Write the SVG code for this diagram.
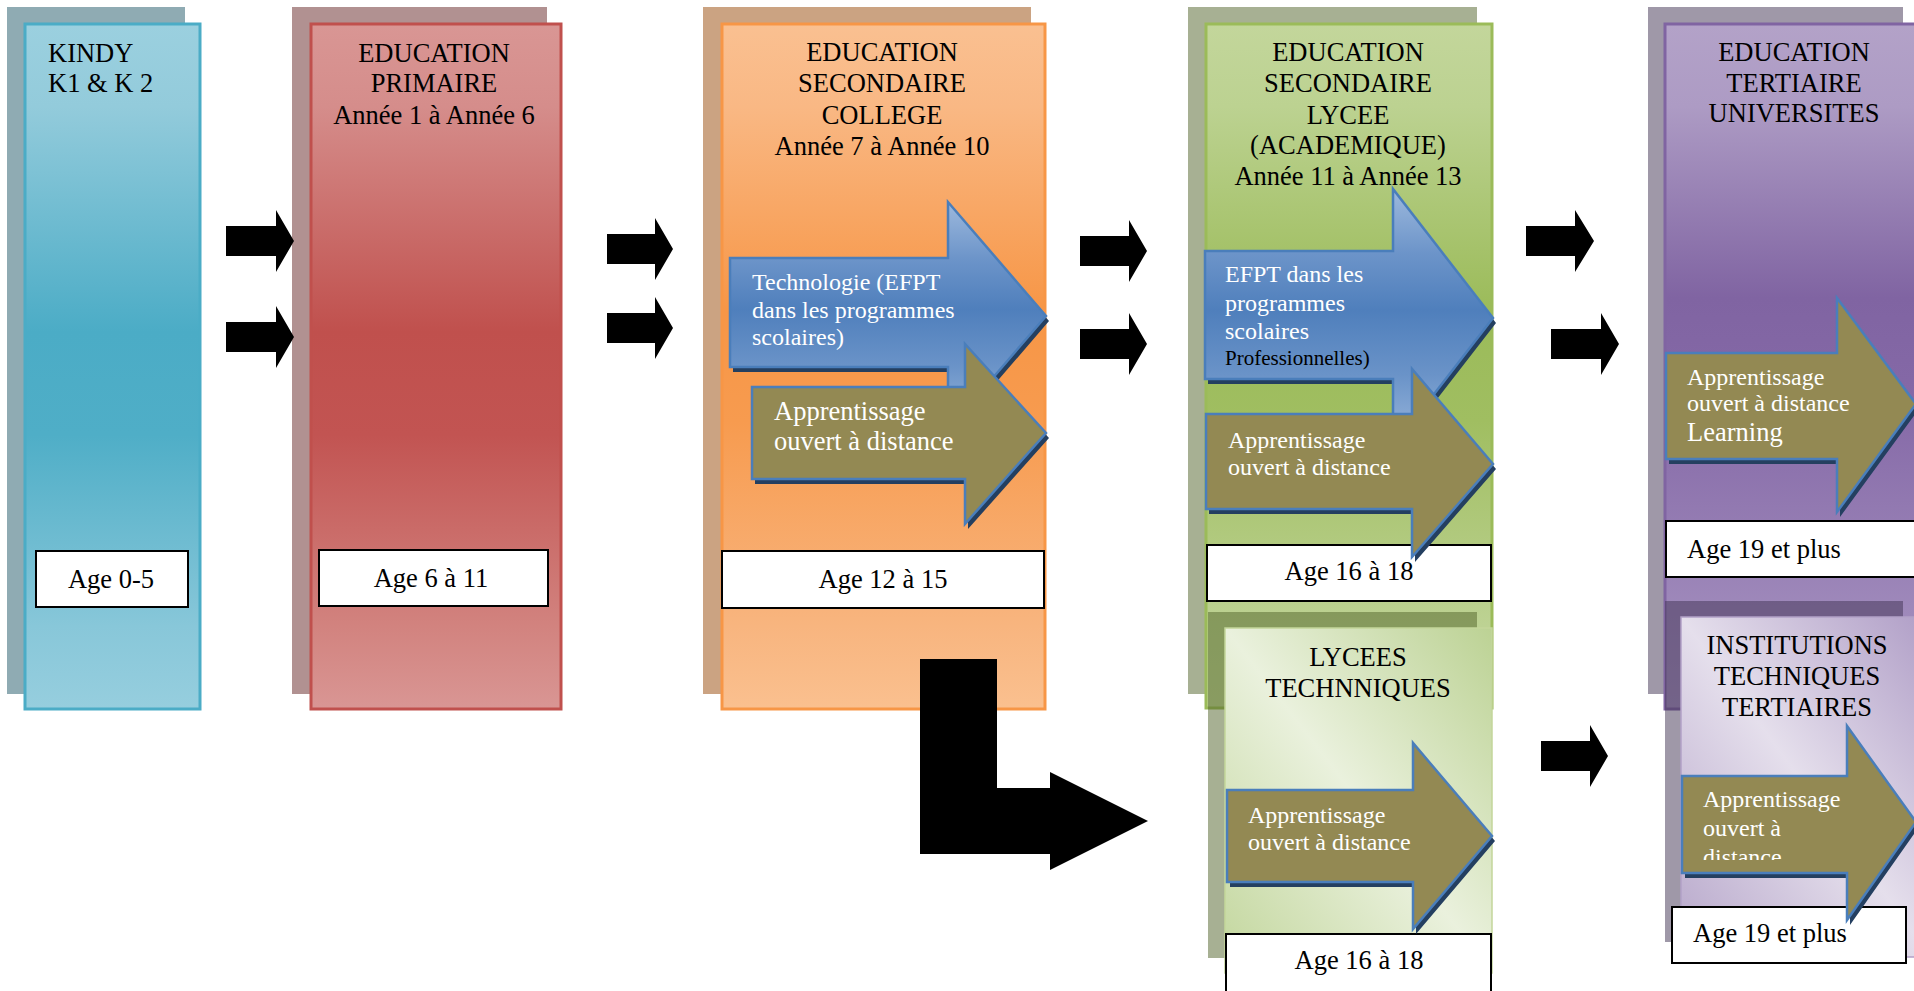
<svg xmlns="http://www.w3.org/2000/svg" width="1914" height="991" viewBox="0 0 1914 991">
<style>
  text { font-family: "Liberation Serif", "Times New Roman", serif; }
  .t { font-size: 26.5px; fill: #000; }
  .c { text-anchor: middle; }
  .w { fill: #fff; font-size: 24px; }
  .wl { fill: #fff; font-size: 26.5px; }
  .age { fill: #fff; stroke: #000; stroke-width: 2; }
  .blk { fill: #000; }
  .sh { opacity: 0.5; }
  .ashadow { fill: #243F60; }
  .olive { fill: #938953; stroke: #4A7EBB; stroke-width: 2.5; stroke-linejoin: miter; }
  .blue { fill: url(#gBlue); stroke: #4A7EBB; stroke-width: 2.5; }
</style>
<defs>
  <linearGradient id="gKindy" x1="0" y1="0" x2="0" y2="1">
    <stop offset="0" stop-color="#9BD0DF"/><stop offset="0.12" stop-color="#93CBDB"/>
    <stop offset="0.45" stop-color="#4BACC6"/><stop offset="0.6" stop-color="#4FAEC7"/>
    <stop offset="0.88" stop-color="#88C7D9"/><stop offset="1" stop-color="#96CEDE"/>
  </linearGradient>
  <linearGradient id="gPrim" x1="0" y1="0" x2="0" y2="1">
    <stop offset="0" stop-color="#D99694"/><stop offset="0.12" stop-color="#D58D8B"/>
    <stop offset="0.45" stop-color="#C0504D"/><stop offset="0.6" stop-color="#C25452"/>
    <stop offset="0.88" stop-color="#D2837F"/><stop offset="1" stop-color="#D99694"/>
  </linearGradient>
  <linearGradient id="gColl" x1="0" y1="0" x2="0" y2="1">
    <stop offset="0" stop-color="#FAC091"/><stop offset="0.12" stop-color="#F9B884"/>
    <stop offset="0.42" stop-color="#F79646"/><stop offset="0.58" stop-color="#F79B4F"/>
    <stop offset="0.88" stop-color="#F8B57F"/><stop offset="1" stop-color="#FAC08F"/>
  </linearGradient>
  <linearGradient id="gLyc" x1="0" y1="0" x2="0" y2="1">
    <stop offset="0" stop-color="#C3D69B"/><stop offset="0.12" stop-color="#BCD291"/>
    <stop offset="0.42" stop-color="#9BBB59"/><stop offset="0.58" stop-color="#A0BE61"/>
    <stop offset="0.88" stop-color="#BDD293"/><stop offset="1" stop-color="#C3D69B"/>
  </linearGradient>
  <linearGradient id="gTert" x1="0" y1="0" x2="0" y2="1">
    <stop offset="0" stop-color="#B3A2C8"/><stop offset="0.12" stop-color="#AD9BC4"/>
    <stop offset="0.4" stop-color="#8064A2"/><stop offset="0.55" stop-color="#8569A7"/>
    <stop offset="0.85" stop-color="#9E88BA"/><stop offset="1" stop-color="#A895C0"/>
  </linearGradient>
  <linearGradient id="gLT" x1="1" y1="0" x2="0" y2="1">
    <stop offset="0" stop-color="#BCD294"/><stop offset="0.5" stop-color="#EAF1DD"/>
    <stop offset="1" stop-color="#C2D69C"/>
  </linearGradient>
  <linearGradient id="gITT" x1="1" y1="0" x2="0" y2="1">
    <stop offset="0" stop-color="#AF9DC6"/><stop offset="0.5" stop-color="#E5DFEC"/>
    <stop offset="1" stop-color="#B6A6CA"/>
  </linearGradient>
  <linearGradient id="gBlue" x1="0" y1="0" x2="0" y2="1">
    <stop offset="0" stop-color="#9DB9DD"/><stop offset="0.25" stop-color="#6C94C9"/>
    <stop offset="0.47" stop-color="#4F7FBC"/><stop offset="0.72" stop-color="#6A93C8"/>
    <stop offset="1" stop-color="#9DB9DD"/>
  </linearGradient>
  <clipPath id="clipITT"><rect x="1680" y="770" width="200" height="90"/></clipPath>
</defs>

<!-- KINDY -->
<g id="kindy">
  <rect class="sh" x="7" y="7" width="178" height="687" fill="#205867"/>
  <rect x="25" y="24" width="175" height="685" fill="url(#gKindy)" stroke="#4BACC6" stroke-width="3"/>
  <text class="t" x="48" y="62">KINDY</text>
  <text class="t" x="48" y="92">K1 &amp; K 2</text>
  <rect class="age" x="36" y="551" width="152" height="56"/>
  <text class="t c" x="111" y="588">Age 0-5</text>
</g>

<!-- PRIMAIRE -->
<g id="primaire">
  <rect class="sh" x="292" y="7" width="255" height="687" fill="#632423"/>
  <rect x="311" y="24" width="250" height="685" fill="url(#gPrim)" stroke="#C0504D" stroke-width="3"/>
  <text class="t c" x="434" y="62">EDUCATION</text>
  <text class="t c" x="434" y="92">PRIMAIRE</text>
  <text class="t c" x="434" y="124">Année 1 à Année 6</text>
  <rect class="age" x="319" y="550" width="229" height="56"/>
  <text class="t c" x="431" y="587">Age 6 à 11</text>
</g>

<!-- COLLEGE -->
<g id="college">
  <rect class="sh" x="703" y="7" width="328" height="687" fill="#974806"/>
  <rect x="722" y="24" width="323" height="685" fill="url(#gColl)" stroke="#F79646" stroke-width="3"/>
  <text class="t c" x="882" y="61">EDUCATION</text>
  <text class="t c" x="882" y="92">SECONDAIRE</text>
  <text class="t c" x="882" y="124">COLLEGE</text>
  <text class="t c" x="882" y="155">Année 7 à Année 10</text>
  <rect class="age" x="722" y="551" width="322" height="57"/>
  <text class="t c" x="883" y="588">Age 12 à 15</text>
  <polygon class="ashadow" transform="translate(3,5)" points="730,258 948,258 948,202 1046,316 948,430 948,367 730,367"/>
  <polygon class="blue" points="730,258 948,258 948,202 1046,316 948,430 948,367 730,367"/>
  <text class="w" x="752" y="290">Technologie (EFPT</text>
  <text class="w" x="752" y="318">dans les programmes</text>
  <text class="w" x="752" y="345">scolaires)</text>
  <polygon class="ashadow" transform="translate(3,5)" points="752,387 965,387 965,344 1046,433 965,524 965,479 752,479"/>
  <polygon class="olive" points="752,387 965,387 965,344 1046,433 965,524 965,479 752,479"/>
  <text class="wl" x="774" y="420">Apprentissage</text>
  <text class="wl" x="774" y="450">ouvert à distance</text>
</g>

<!-- LYCEE -->
<g id="lycee">
  <rect class="sh" x="1188" y="7" width="289" height="687" fill="#4F6228"/>
  <rect x="1206" y="24" width="286" height="684" fill="url(#gLyc)" stroke="#9BBB59" stroke-width="3"/>
  <text class="t c" x="1348" y="61">EDUCATION</text>
  <text class="t c" x="1348" y="92">SECONDAIRE</text>
  <text class="t c" x="1348" y="124">LYCEE</text>
  <text class="t c" x="1348" y="154">(ACADEMIQUE)</text>
  <text class="t c" x="1348" y="185">Année 11 à Année 13</text>
  <rect class="age" x="1207" y="545" width="284" height="56"/>
  <text class="t c" x="1349" y="580">Age 16 à 18</text>
  <polygon class="ashadow" transform="translate(3,5)" points="1205,251 1393,251 1393,189 1493,318 1393,447 1393,379 1205,379"/>
  <polygon class="blue" points="1205,251 1393,251 1393,189 1493,318 1393,447 1393,379 1205,379"/>
  <text class="w" x="1225" y="282">EFPT dans les</text>
  <text class="w" x="1225" y="311">programmes</text>
  <text class="w" x="1225" y="339">scolaires</text>
  <text x="1225" y="365" font-size="21" fill="#000">Professionnelles)</text>
  <polygon class="ashadow" transform="translate(3,5)" points="1206,414 1412,414 1412,369 1493,464 1412,557 1412,509 1206,509"/>
  <polygon class="olive" points="1206,414 1412,414 1412,369 1493,464 1412,557 1412,509 1206,509"/>
  <text class="w" x="1228" y="448">Apprentissage</text>
  <text class="w" x="1228" y="475">ouvert à distance</text>
</g>

<!-- LYCEES TECHNIQUES -->
<g id="lycees-techniques">
  <rect class="sh" x="1208" y="612" width="269" height="346" fill="#4F6228"/>
  <rect x="1225" y="628" width="267" height="345" fill="url(#gLT)" stroke="#C3D69B" stroke-width="1.5"/>
  <text class="t c" x="1358" y="666">LYCEES</text>
  <text class="t c" x="1358" y="697">TECHNNIQUES</text>
  <rect class="age" x="1226" y="934" width="265" height="70"/>
  <text class="t c" x="1359" y="969">Age 16 à 18</text>
  <polygon class="ashadow" transform="translate(3,5)" points="1227,790 1413,790 1413,743 1492,836 1413,929 1413,882 1227,882"/>
  <polygon class="olive" points="1227,790 1413,790 1413,743 1492,836 1413,929 1413,882 1227,882"/>
  <text class="w" x="1248" y="823">Apprentissage</text>
  <text class="w" x="1248" y="850">ouvert à distance</text>
</g>

<!-- TERTIAIRE -->
<g id="tertiaire">
  <rect class="sh" x="1648" y="7" width="255" height="687" fill="#3F3151"/>
  <rect x="1665" y="24" width="270" height="685" fill="url(#gTert)" stroke="#8064A2" stroke-width="3"/>
  <text class="t c" x="1794" y="61">EDUCATION</text>
  <text class="t c" x="1794" y="92">TERTIAIRE</text>
  <text class="t c" x="1794" y="122">UNIVERSITES</text>
  <rect class="age" x="1666" y="521" width="260" height="56"/>
  <text class="t" x="1687" y="558">Age 19 et plus</text>
  <polygon class="ashadow" transform="translate(3,5)" points="1666,353 1837,353 1837,298 1916,404 1837,512 1837,459 1666,459"/>
  <polygon class="olive" points="1666,353 1837,353 1837,298 1916,404 1837,512 1837,459 1666,459"/>
  <text class="w" x="1687" y="385">Apprentissage</text>
  <text class="w" x="1687" y="411">ouvert à distance</text>
  <text class="wl" x="1687" y="441">Learning</text>
</g>

<!-- INSTITUTIONS TECHNIQUES TERTIAIRES -->
<g id="institutions-techniques">
  <rect class="sh" x="1665" y="601" width="238" height="341" fill="#3F3151"/>
  <rect x="1681" y="617" width="250" height="340" fill="url(#gITT)" stroke="#B2A1C7" stroke-width="1.5"/>
  <text class="t c" x="1797" y="654">INSTITUTIONS</text>
  <text class="t c" x="1797" y="685">TECHNIQUES</text>
  <text class="t c" x="1797" y="716">TERTIAIRES</text>
  <rect class="age" x="1672" y="907" width="234" height="56"/>
  <text class="t" x="1693" y="942">Age 19 et plus</text>
  <polygon class="ashadow" transform="translate(3,5)" points="1682,776 1847,776 1847,726 1916,822 1847,920 1847,873 1682,873"/>
  <polygon class="olive" points="1682,776 1847,776 1847,726 1916,822 1847,920 1847,873 1682,873"/>
  <g clip-path="url(#clipITT)">
    <text class="w" x="1703" y="807">Apprentissage</text>
    <text class="w" x="1703" y="836">ouvert à</text>
    <text class="w" x="1703" y="865">distance</text>
  </g>
</g>

<!-- CONNECTORS -->
<g id="connectors">
  <polygon class="blk" points="226,226 276,226 276,210 294,241 276,272 276,256 226,256"/>
  <polygon class="blk" points="226,322 276,322 276,306 294,337 276,368 276,352 226,352"/>
  <polygon class="blk" points="607,234 655,234 655,218 673,249 655,280 655,264 607,264"/>
  <polygon class="blk" points="607,313 655,313 655,297 673,328 655,359 655,343 607,343"/>
  <polygon class="blk" points="1080,236 1129,236 1129,220 1147,251 1129,282 1129,266 1080,266"/>
  <polygon class="blk" points="1080,329 1129,329 1129,313 1147,344 1129,375 1129,359 1080,359"/>
  <polygon class="blk" points="1526,226 1575,226 1575,210 1594,241 1575,272 1575,256 1526,256"/>
  <polygon class="blk" points="1551,329 1601,329 1601,313 1619,344 1601,375 1601,359 1551,359"/>
  <polygon class="blk" points="1541,741 1590,741 1590,725 1608,756 1590,787 1590,771 1541,771"/>
  <polygon class="blk" points="920,659 997,659 997,788 1050,788 1050,772 1148,821 1050,870 1050,854 920,854"/>
</g>
</svg>
